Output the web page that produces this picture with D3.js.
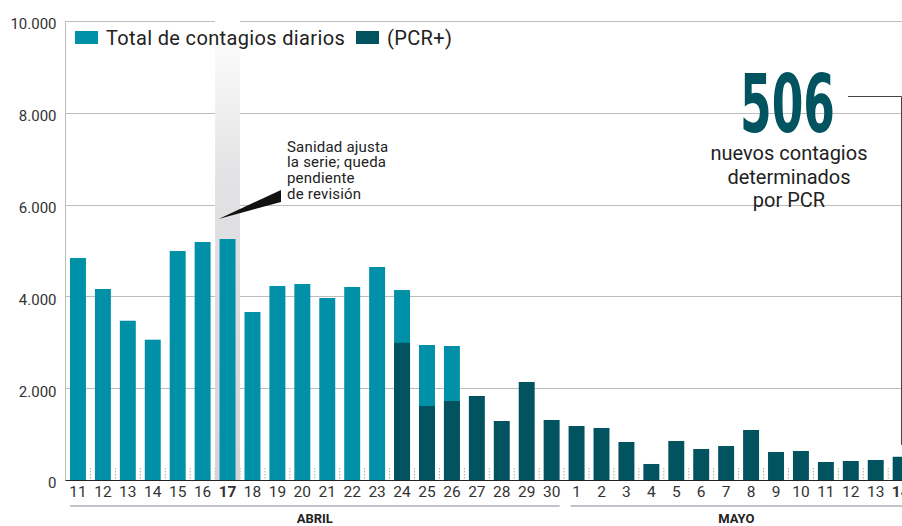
<!DOCTYPE html>
<html>
<head>
<meta charset="utf-8">
<script src="https://cdn.jsdelivr.net/npm/d3@7"></script>
<style>
  body { margin: 0; background: #fff; }
  svg { display: block; font-family: Roboto, 'Noto Sans', sans-serif; }
</style>
</head>
<body>
<div id="chart"></div>
<script>
// days shown on the x axis (abril 11-30, mayo 1-14)
const aprilDays = ['11','12','13','14','15','16','17','18','19','20','21','22','23','24','25','26','27','28','29','30'];
const mayDays = ['1','2','3','4','5','6','7','8','9','10','11','12','13','14'];
const months = ['ABRIL', 'MAYO'];

// total daily cases (only reported until 26 abril)
const totalCases = [4837, 4161, 3470, 3057, 4989, 5185, 5250, 3660, 4227, 4270, 3965, 4205, 4640, 4139, 2941, 2919,
  null, null, null, null,
  null, null, null, null, null, null, null, null, null, null, null, null, null, null];
// PCR+ cases (from 24 abril)
const pcrCases = [null, null, null, null, null, null, null, null, null, null, null, null, null,
  2990, 1612, 1721, 1830, 1285, 2135, 1307,
  1176, 1133, 828, 349, 850, 675, 740, 1089, 610, 632, 392, 414, 436, 506];
const yTicks = [0, 2000, 4000, 6000, 8000, 10000];
const highlightDay = 'abr-17';
const lastDay = 'may-14';
const headline = '506';
const headlineText = ['nuevos contagios', 'determinados', 'por PCR'];
const noteText = ['Sanidad ajusta', 'la serie; queda', 'pendiente', 'de revisión'];

const width = 902, height = 526;
const lightTeal = '#0090a8', darkTeal = '#00535f';

const days = aprilDays.map(d => ({ key: 'abr-' + d, label: d, month: 'ABRIL' }))
  .concat(mayDays.map(d => ({ key: 'may-' + d, label: d, month: 'MAYO' })));
days.forEach((d, i) => { d.total = totalCases[i]; d.pcr = pcrCases[i]; });

const svg = d3.select('#chart').append('svg')
  .attr('width', width)
  .attr('height', height);

const step = 24.93;
const left = 65.5;
const x = d3.scaleBand()
  .domain(days.map(d => d.key))
  .range([left, left + days.length * step])
  .paddingInner(0.36)
  .paddingOuter(0.18);
const y = d3.scaleLinear().domain([0, 10000]).range([480, 21]);

const locale = d3.formatLocale({ decimal: ',', thousands: '.', grouping: [3], currency: ['', ''] });
const fmt = locale.format(',');

// gradient for the highlighted day
const defs = svg.append('defs');
const grad = defs.append('linearGradient')
  .attr('id', 'hl')
  .attr('x1', 0).attr('y1', 0).attr('x2', 0).attr('y2', 1);
grad.append('stop').attr('offset', '0%').attr('stop-color', '#ffffff');
grad.append('stop').attr('offset', '35%').attr('stop-color', '#e2e2e4');
grad.append('stop').attr('offset', '100%').attr('stop-color', '#d3d3d5');

// gridlines
svg.append('g')
  .selectAll('line')
  .data(yTicks.filter(t => t > 0))
  .enter().append('line')
  .attr('x1', left).attr('x2', width)
  .attr('y1', d => Math.round(y(d)) + 0.5).attr('y2', d => Math.round(y(d)) + 0.5)
  .attr('stroke', '#bdbdbd')
  .attr('stroke-width', 1);

// y axis line
svg.append('line')
  .attr('x1', left).attr('x2', left)
  .attr('y1', y(10000)).attr('y2', y(0))
  .attr('stroke', '#bdbdbd');

// dotted separators between days
const bounds = days.slice(1).map(d => x(d.key) - x.step() * x.paddingInner() / 2);
svg.append('g')
  .selectAll('line')
  .data(bounds)
  .enter().append('line')
  .attr('x1', d => d).attr('x2', d => d)
  .attr('y1', y(0) - 12).attr('y2', y(0))
  .attr('stroke', '#a8a8a8')
  .attr('stroke-dasharray', '1.5,1.5');

// highlight band
svg.append('rect')
  .attr('x', x(highlightDay) - x.step() * x.paddingInner() / 2)
  .attr('y', y(10000))
  .attr('width', x.step())
  .attr('height', y(0) - y(10000))
  .attr('fill', 'url(#hl)');

// total bars
svg.append('g')
  .selectAll('rect')
  .data(days.filter(d => d.total != null))
  .enter().append('rect')
  .attr('x', d => x(d.key))
  .attr('y', d => y(d.total))
  .attr('width', x.bandwidth())
  .attr('height', d => y(0) - y(d.total))
  .attr('fill', lightTeal);

// pcr bars
svg.append('g')
  .selectAll('rect')
  .data(days.filter(d => d.pcr != null))
  .enter().append('rect')
  .attr('x', d => x(d.key))
  .attr('y', d => y(d.pcr))
  .attr('width', x.bandwidth())
  .attr('height', d => y(0) - y(d.pcr))
  .attr('fill', darkTeal);

// baseline
svg.append('line')
  .attr('x1', left).attr('x2', width)
  .attr('y1', y(0) + 0.5).attr('y2', y(0) + 0.5)
  .attr('stroke', '#222')
  .attr('stroke-width', 1.2);

// y axis labels
const yAxis = svg.append('g')
  .attr('transform', `translate(${left}, 3)`)
  .call(d3.axisLeft(y).tickValues(yTicks).tickSize(0).tickPadding(9).tickFormat(fmt));
yAxis.select('.domain').remove();
yAxis.selectAll('text')
  .attr('font-family', 'Roboto, sans-serif')
  .attr('font-size', 15)
  .attr('fill', '#333');

// x axis labels
const xAxis = svg.append('g')
  .attr('transform', `translate(0, ${y(0)})`)
  .call(d3.axisBottom(x).tickSize(0).tickFormat(k => days.find(d => d.key === k).label));
xAxis.select('.domain').remove();
xAxis.selectAll('text')
  .attr('y', 17)
  .attr('dy', 0)
  .attr('font-family', 'Roboto, sans-serif')
  .attr('font-size', 15.5)
  .attr('fill', '#333')
  .attr('font-weight', k => (k === highlightDay || k === lastDay) ? 'bold' : 'normal');

// month groups
months.forEach((m, i) => {
  const group = days.filter(d => d.month === m);
  const x0 = x(group[0].key) + (i === 0 ? 0 : 2);
  const x1 = Math.min(x(group[group.length - 1].key) + x.bandwidth(), width);
  svg.append('line')
    .attr('x1', x0).attr('x2', x1)
    .attr('y1', 506).attr('y2', 506)
    .attr('stroke', '#aab0b8')
    .attr('stroke-width', 1.5);
  svg.append('text')
    .attr('x', (x0 + x1) / 2)
    .attr('y', 523)
    .attr('text-anchor', 'middle')
    .attr('font-size', 13)
    .attr('font-weight', 'bold')
    .attr('fill', '#222')
    .text(m);
});

// legend
svg.append('rect')
  .attr('x', left + 1).attr('y', 22)
  .attr('width', 400).attr('height', 22)
  .attr('fill', '#fff');
const legend = [{ label: 'Total de contagios diarios', color: lightTeal, x: 75 },
                { label: '(PCR+)', color: darkTeal, x: 356 }];
legend.forEach(l => {
  svg.append('rect')
    .attr('x', l.x).attr('y', 31)
    .attr('width', 23).attr('height', 13)
    .attr('fill', l.color);
  svg.append('text')
    .attr('x', l.x + 31).attr('y', 45)
    .attr('font-size', 20)
    .attr('letter-spacing', 0.35)
    .attr('fill', '#222')
    .text(l.label);
});

// annotation for day 17
const note = svg.append('text')
  .attr('x', 287).attr('y', 151.5)
  .attr('font-size', 15)
  .attr('letter-spacing', 0.2)
  .attr('fill', '#222');
noteText.forEach((t, i) => {
  note.append('tspan').attr('x', 287).attr('dy', i === 0 ? 0 : 15.7).text(t);
});
const tipX = x(highlightDay) - 1, tipY = 219;
svg.append('path')
  .attr('d', `M${tipX},${tipY} L281,190 L281,202 Z`)
  .attr('fill', '#111');

// headline number
svg.append('text')
  .attr('x', 740).attr('y', 132)
  .attr('font-family', "'Liberation Sans Narrow', 'DejaVu Sans Condensed', sans-serif")
  .attr('font-weight', 'bold')
  .attr('font-size', 81)
  .attr('textLength', 95)
  .attr('lengthAdjust', 'spacingAndGlyphs')
  .attr('fill', darkTeal)
  .text(headline);
const sub = svg.append('text')
  .attr('x', 789).attr('y', 160)
  .attr('text-anchor', 'middle')
  .attr('font-size', 20)
  .attr('fill', '#222');
headlineText.forEach((t, i) => {
  sub.append('tspan').attr('x', 789).attr('dy', i === 0 ? 0 : 23.5).text(t);
});

// connector from headline to last bar
svg.append('path')
  .attr('d', `M848,96.5 H901.5 V${y(506) - 12}`)
  .attr('fill', 'none')
  .attr('stroke', '#444')
  .attr('stroke-width', 1);
</script>
</body>
</html>
